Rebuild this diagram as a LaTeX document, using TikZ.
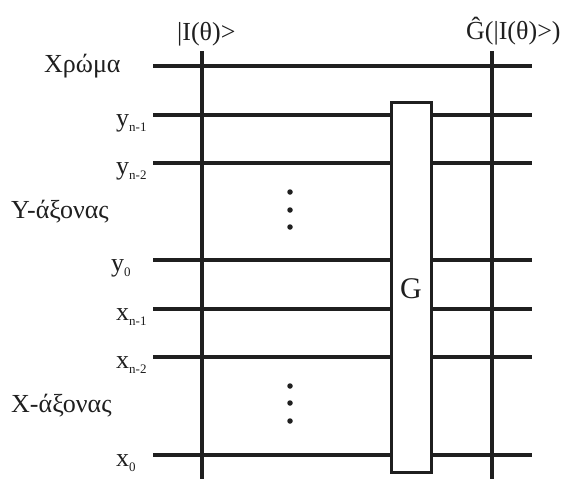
\documentclass[tikz,border=0pt]{standalone}
\usepackage{fontspec}
\setmainfont{Liberation Serif}
\newcommand{\lowsub}[1]{\raisebox{-0.45ex}{\fontsize{13}{13}\selectfont #1}}
\begin{document}
\begin{tikzpicture}[x=1pt,y=-1pt,
  wire/.style={line width=3.2pt,color=black!88},
  gatebox/.style={draw=black!88,line width=3pt,fill=white,minimum width=40pt,minimum height=370pt,inner sep=0pt},
  lbl/.style={font=\fontsize{26}{26}\selectfont,inner sep=0pt,text=black!88},
  dotmark/.style={fill=black!88,circle,inner sep=0pt,minimum size=5.5pt}]
\useasboundingbox[fill=white] (0,0) rectangle (566,479);

% wire levels
\foreach \n/\y in {c/66,yA/115,yB/163,yZ/260,xA/309,xB/357,xZ/455}{
  \coordinate (\n-l) at (153,\y);
  \coordinate (\n-r) at (532,\y);
}

% vertical state markers
\coordinate (s1-t) at (202,51);
\coordinate (s1-b) at (202,479);
\coordinate (s2-t) at (492,51);
\coordinate (s2-b) at (492,479);

% the G gate
\node[gatebox] (G) at (411,287) {};
\node[lbl,font=\fontsize{30}{30}\selectfont,anchor=base] (Gt) at (411,298) {G};

% wires
\draw[wire] (c-l) -- (c-r);
\foreach \n in {yA,yB,yZ,xA,xB,xZ}{
  \draw[wire] (\n-l) -- (\n-l -| G.west);
  \draw[wire] (\n-r -| G.east) -- (\n-r);
}
\draw[wire] (s1-t) -- (s1-b);
\draw[wire] (s2-t) -- (s2-b);

% ellipsis dots
\foreach \y [count=\i] in {192,210,227,386,403,421}
  \node[dotmark] (d\i) at (290,\y) {};

% labels
\node[lbl,anchor=base west] (lc) at (44,72) {Χρώμα};
\node[lbl,anchor=base west] (ly) at (11,218) {Y-άξονας};
\node[lbl,anchor=base west] (lx) at (11,412) {X-άξονας};
\node[lbl,anchor=base west] (lyA) at (116,126) {y\lowsub{n-1}};
\node[lbl,anchor=base west] (lyB) at (116,174) {y\lowsub{n-2}};
\node[lbl,anchor=base west] (lyZ) at (111,271) {y\lowsub{0}};
\node[lbl,anchor=base west] (lxA) at (116,320) {x\lowsub{n-1}};
\node[lbl,anchor=base west] (lxB) at (116,368) {x\lowsub{n-2}};
\node[lbl,anchor=base west] (lxZ) at (116,466) {x\lowsub{0}};
\node[lbl,anchor=base west] (in) at (177,40) {|I(θ)>};
\node[lbl,anchor=base west] (out) at (466,39) {\^{G}(|I(θ)>)};
\end{tikzpicture}
\end{document}
